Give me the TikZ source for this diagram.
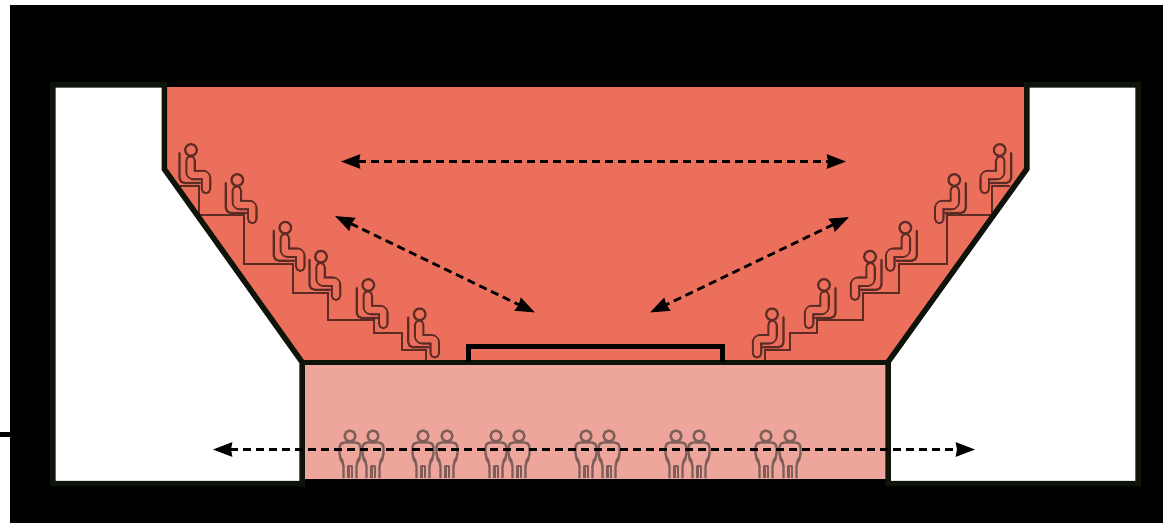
\documentclass[tikz,border=0pt]{standalone}
\usetikzlibrary{arrows.meta}
\definecolor{wallline}{HTML}{0F140A}
\definecolor{redroom}{HTML}{EC6F5C}
\definecolor{pinkroom}{HTML}{EEA59C}
\definecolor{figdark}{HTML}{5B2B24}
\definecolor{figgrey}{HTML}{7D5E59}
\tikzset{
  wall/.style={draw=wallline,line width=5.5pt,fill=white,line join=miter},
  stairline/.style={draw=figdark,line width=2.3pt,line join=miter},
  dbl/.style={draw=black,line width=2.8pt,dash pattern=on 8pt off 5pt,
    {Stealth[length=19pt,width=14pt,inset=1pt]}-{Stealth[length=19pt,width=14pt,inset=1pt]}},
  fig/.style={draw=figdark,line width=2.2pt,line cap=round,line join=round},
  stand/.style={draw=figgrey,line width=2.4pt,line cap=butt,line join=round}
}
\newcommand{\sitter}[3]{% x, y, mirror
  \begin{scope}[shift={(#1,#2)},xscale=#3]
    \draw[fig] (0,0) circle (5.8);
    \draw[figdark,line width=10.5pt,line cap=round,line join=round,rounded corners=3pt]
      (-0.5,10.5) -- (-0.5,25) -- (15,25) -- (15,39);
    \draw[redroom,line width=6.2pt,line cap=round,line join=round,rounded corners=2pt]
      (-0.5,10.5) -- (-0.5,25) -- (15,25) -- (15,39);
    \draw[fig,rounded corners=5pt] (-11.5,3) -- (-11.5,33) -- (9,33);
  \end{scope}}
\newcommand{\stander}[1]{%
  \begin{scope}[shift={(#1,436)}]
    \draw[stand] (0,0) circle (5.5);
    \draw[stand,rounded corners=4.5pt] (-6.5,42) -- (-6.5,26) -- (-10.5,22) -- (-10.5,6.5) -- (10.5,6.5) -- (10.5,22) -- (6.5,26) -- (6.5,42);
    \draw[stand] (-1.7,42) -- (-1.7,30) -- (1.7,30) -- (1.7,42);
  \end{scope}}
\begin{document}
\begin{tikzpicture}[x=1pt,y=-1pt]
\useasboundingbox (0,0) rectangle (1163,523);
\fill[black] (10,4.5) rectangle (1163,523);
\fill[redroom] (165,87) -- (1027,87) -- (1027,169) -- (888,362) -- (302,362) -- (165,169) -- cycle;
\fill[pinkroom] (302,362) rectangle (888,478.7);
\draw[stairline] (179,186) -- (199,186) -- (199,215) -- (244,215) -- (244,264) -- (293,264) -- (293,293) -- (328,293) -- (328,320) -- (374,320) -- (374,333) -- (402,333) -- (402,350) -- (426,350) -- (426,362);
\draw[stairline] (1010,186) -- (992,186) -- (992,215) -- (947,215) -- (947,264) -- (899,264) -- (899,293) -- (863,293) -- (863,320) -- (817,320) -- (817,333) -- (790,333) -- (790,350) -- (765,350) -- (765,362);
\draw[wall] (52.9,84.9) -- (164.3,84.9) -- (164.3,169) -- (302,362) -- (302,483.6) -- (52.9,483.6) -- cycle;
\draw[wall] (1138,84.9) -- (1026.8,84.9) -- (1026.8,169) -- (888,362) -- (888,483.6) -- (1138,483.6) -- cycle;
\draw[wallline,line width=5.5pt] (302,362.5) -- (888,362.5);
\draw[black,line width=5pt] (468,362) -- (468,346.5) -- (722,346.5) -- (722,362);
\draw[black,line width=5pt] (0,434) -- (10,434);
\foreach \px/\py in {191/150,237.3/180,285.3/227.7,321/256.7,368.3/285,419.7/314.3} {\sitter{\px}{\py}{1}}
\foreach \px/\py in {999.7/150,954.3/180,905.3/227.7,870/256.7,824/285,772/314.3} {\sitter{\px}{\py}{-1}}
\foreach \px in {350,373,423,447,496,519,586,609,676,699,766,790} {\stander{\px}}
\coordinate (topL) at (341,161.5);
\coordinate (topR) at (846,161.5);
\coordinate (upL) at (335,216);
\coordinate (loL) at (535,312.5);
\coordinate (upR) at (849,217);
\coordinate (loR) at (650,312.5);
\coordinate (botL) at (213,449.5);
\coordinate (botR) at (975,449.5);
\draw[dbl] (topL) -- (topR);
\draw[dbl] (upL) -- (loL);
\draw[dbl] (upR) -- (loR);
\draw[dbl] (botL) -- (botR);
\end{tikzpicture}
\end{document}
